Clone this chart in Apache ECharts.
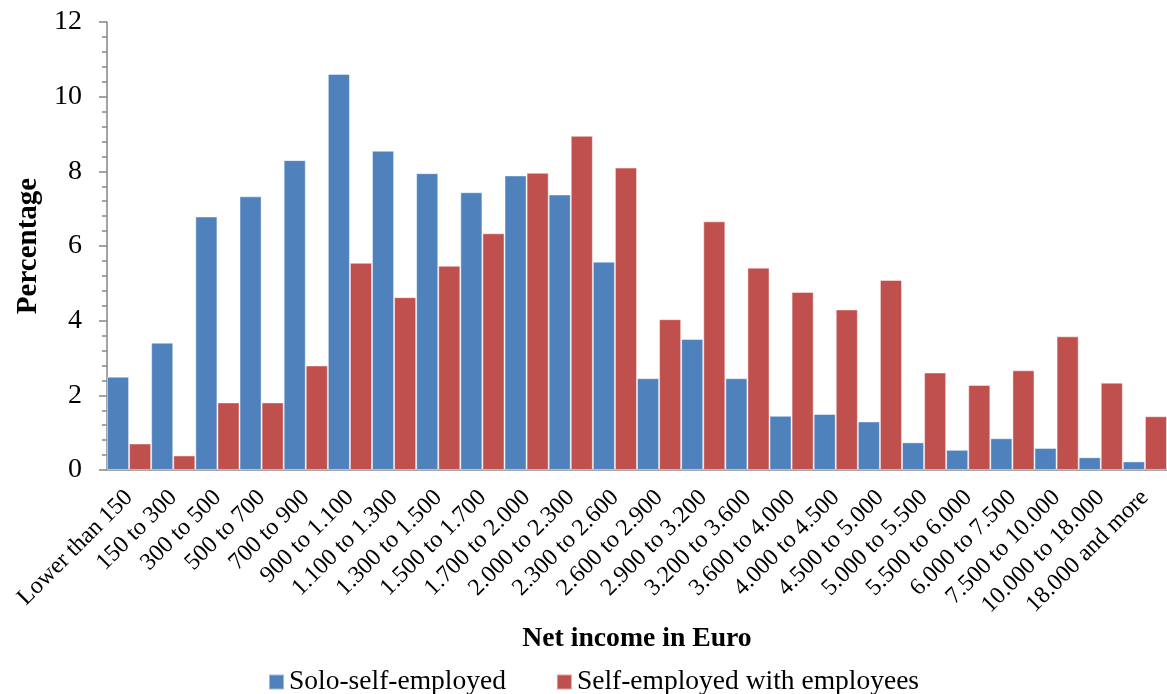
<!DOCTYPE html>
<html>
<head>
<meta charset="utf-8">
<script src="https://cdn.jsdelivr.net/npm/echarts@6/dist/echarts.min.js"></script>
<style>
  html, body { margin: 0; padding: 0; background: #fff; }
  #chart { width: 1167px; height: 694px; }
</style>
</head>
<body>
<div id="chart"></div>
<script>
// Monthly net income bands
const categories = [
  'Lower than 150', '150 to 300', '300 to 500', '500 to 700', '700 to 900',
  '900 to 1.100', '1.100 to 1.300', '1.300 to 1.500', '1.500 to 1.700',
  '1.700 to 2.000', '2.000 to 2.300', '2.300 to 2.600', '2.600 to 2.900',
  '2.900 to 3.200', '3.200 to 3.600', '3.600 to 4.000', '4.000 to 4.500',
  '4.500 to 5.000', '5.000 to 5.500', '5.500 to 6.000', '6.000 to 7.500',
  '7.500 to 10.000', '10.000 to 18.000', '18.000 and more'
];

// Share of each group (%) per income band
const soloSelfEmployed = [
  2.50, 3.41, 6.79, 7.33, 8.30, 10.61, 8.55, 7.95, 7.44, 7.89, 7.38, 5.58,
  2.46, 3.51, 2.46, 1.45, 1.50, 1.30, 0.74, 0.54, 0.85, 0.59, 0.34, 0.23
];
const withEmployees = [
  0.71, 0.39, 1.81, 1.81, 2.80, 5.55, 4.63, 5.47, 6.34, 7.96, 8.95, 8.10,
  4.04, 6.66, 5.42, 4.77, 4.30, 5.09, 2.61, 2.28, 2.67, 3.58, 2.34, 1.44
];

const yTicks = { min: 0, max: 12, interval: 2 };

const FONT = '"Liberation Serif", "DejaVu Serif", serif';

const chart = echarts.init(document.getElementById('chart'), null, { renderer: 'canvas' });

const barStyle = (color) => ({
  color: color,
  borderColor: 'rgba(255,255,255,0.45)',
  borderWidth: 1
});

chart.setOption({
  animation: false,
  backgroundColor: '#ffffff',
  textStyle: { fontFamily: FONT, color: '#000' },
  grid: { left: 107, right: -9, top: 22, bottom: 224, containLabel: false },
  legend: {
    top: 663,
    left: 263,
    itemWidth: 15,
    itemHeight: 15,
    itemGap: 50,
    icon: 'rect',
    textStyle: { fontFamily: FONT, fontSize: 27.5, color: '#000' },
    data: ['Solo-self-employed', 'Self-employed with employees']
  },
  xAxis: {
    type: 'category',
    data: categories,
    name: 'Net income in Euro',
    nameLocation: 'middle',
    nameGap: 154,
    nameTextStyle: { fontFamily: FONT, fontSize: 27.7, fontWeight: 'bold', color: '#000' },
    axisLine: { lineStyle: { color: '#a6a6a6', width: 2 } },
    axisTick: { show: false },
    axisLabel: {
      interval: 0,
      rotate: 45,
      margin: 24,
      fontFamily: FONT,
      fontSize: 24,
      color: '#000'
    }
  },
  yAxis: {
    type: 'value',
    min: yTicks.min,
    max: yTicks.max,
    interval: yTicks.interval,
    name: 'Percentage',
    nameLocation: 'middle',
    nameGap: 64,
    nameTextStyle: { fontFamily: FONT, fontSize: 29, fontWeight: 'bold', color: '#000' },
    splitLine: { show: false },
    axisLine: { show: true, lineStyle: { color: '#868686', width: 1.5 } },
    axisTick: { show: true, inside: false, length: 8, lineStyle: { color: '#868686', width: 1.5 } },
    minorTick: { show: true, splitNumber: 5, length: 5, lineStyle: { color: '#868686', width: 1.5 } },
    axisLabel: { fontFamily: FONT, fontSize: 28, color: '#000', margin: 25 }
  },
  series: [
    {
      name: 'Solo-self-employed',
      type: 'bar',
      data: soloSelfEmployed,
      barGap: '0%',
      barCategoryGap: '0%',
      itemStyle: barStyle('#4f81bd')
    },
    {
      name: 'Self-employed with employees',
      type: 'bar',
      data: withEmployees,
      barGap: '0%',
      barCategoryGap: '0%',
      itemStyle: barStyle('#c0504d')
    }
  ]
});
</script>
</body>
</html>
